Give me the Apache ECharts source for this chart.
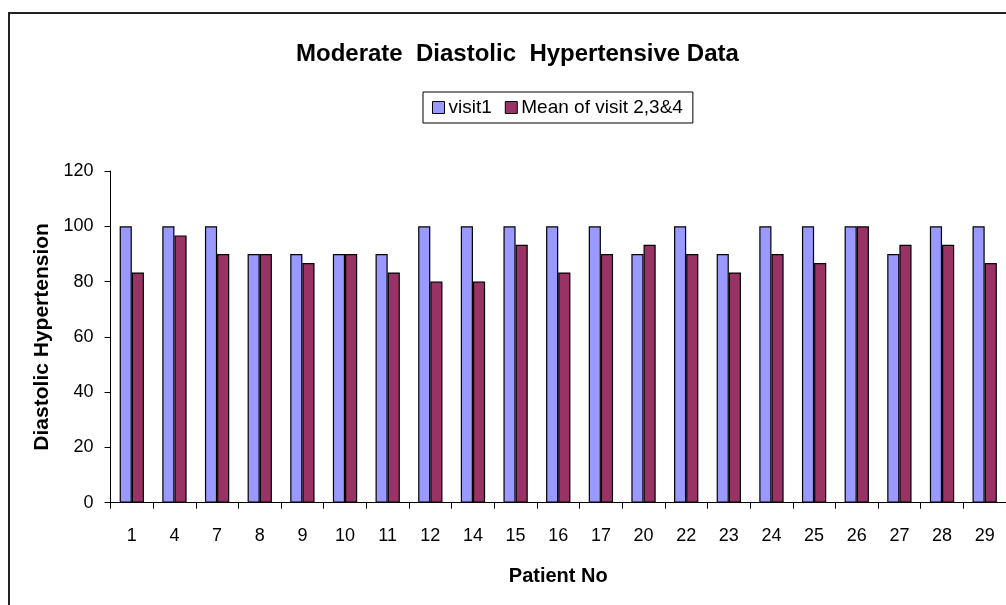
<!DOCTYPE html>
<html>
<head>
<meta charset="utf-8">
<script src="https://cdn.jsdelivr.net/npm/echarts@6/dist/echarts.min.js"></script>
<style>
  html, body { margin: 0; padding: 0; background: #fff; }
  #chart { width: 1006px; height: 605px; }
</style>
</head>
<body>
<div id="chart"></div>
<script>
// patient numbers on the x axis
const patients = ['1', '4', '7', '8', '9', '10', '11', '12', '14', '15', '16', '17', '20', '22', '23', '24', '25', '26', '27', '28', '29']
// first visit reading
const visit1 = [100, 100, 100, 90, 90, 90, 90, 100, 100, 100, 100, 100, 90, 100, 90, 100, 100, 100, 90, 100, 100]
// mean of visits 2, 3 and 4
const meanVisits = [83.3, 96.7, 90, 90, 86.7, 90, 83.3, 80, 80, 93.3, 83.3, 90, 93.3, 90, 83.3, 90, 86.7, 100, 93.3, 93.3, 86.7]
const yTicks = [0, 20, 40, 60, 80, 100, 120]

const font = '"Liberation Sans", Arial, sans-serif'
const chart = echarts.init(document.getElementById('chart'), null, { renderer: 'canvas' })

function barSeries(name, data, color) {
  return {
    name,
    type: 'bar',
    data,
    barGap: '0%',
    barCategoryGap: '43%',
    itemStyle: {
      color,
      borderColor: '#000',
      borderWidth: 1.2,
    },
  }
}

chart.setOption({
  animation: false,
  textStyle: { fontFamily: font },
  graphic: [
    {
      // outer chart frame (cut off by the picture on the right and bottom)
      type: 'rect',
      shape: { x: 9, y: 13, width: 1100, height: 700 },
      style: { fill: 'none', stroke: '#222', lineWidth: 2 },
      silent: true,
      z: -1,
    },
  ],
  title: {
    text: 'Moderate  Diastolic  Hypertensive Data',
    left: 291,
    top: 37,
    textStyle: { fontFamily: font, fontSize: 24, fontWeight: 'bold', color: '#000' },
  },
  legend: {
    left: 423,
    top: 92,
    padding: [6, 10, 6, 9],
    itemGap: 13,
    itemWidth: 12,
    itemHeight: 12,
    borderColor: '#000',
    borderWidth: 1,
    borderRadius: 0,
    icon: 'rect',
    itemStyle: { borderColor: '#000', borderWidth: 1 },
    textStyle: { fontFamily: font, fontSize: 19, color: '#000', padding: [0, 0, 0, -1] },
  },
  grid: {
    left: 110.5,
    top: 171,
    width: 899,
    height: 331.7,
    containLabel: false,
  },
  xAxis: {
    type: 'category',
    data: patients,
    name: 'Patient No',
    nameLocation: 'middle',
    nameGap: 64,
    nameTextStyle: { fontFamily: font, fontSize: 20, fontWeight: 'bold', color: '#000' },
    axisLine: { lineStyle: { color: '#000', width: 1 } },
    axisTick: { show: true, length: 6, lineStyle: { color: '#000' } },
    axisLabel: { margin: 24, fontFamily: font, fontSize: 18, color: '#000', interval: 0 },
  },
  yAxis: {
    type: 'value',
    min: yTicks[0],
    max: yTicks[yTicks.length - 1],
    interval: yTicks[1] - yTicks[0],
    name: 'Diastolic Hypertension',
    nameLocation: 'middle',
    nameGap: 57,
    nameTextStyle: { fontFamily: font, fontSize: 21, fontWeight: 'bold', color: '#000' },
    axisLine: { show: true, lineStyle: { color: '#000', width: 1 } },
    axisTick: { show: true, length: 6, lineStyle: { color: '#000' } },
    axisLabel: { margin: 17, fontFamily: font, fontSize: 18, color: '#000' },
    splitLine: { show: false },
  },
  series: [
    barSeries('visit1', visit1, '#9999FF'),
    barSeries('Mean of visit 2,3&4', meanVisits, '#993366'),
  ],
})
</script>
</body>
</html>
